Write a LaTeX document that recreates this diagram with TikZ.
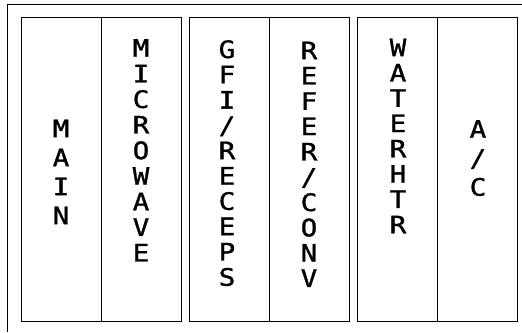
\documentclass[tikz,border=0pt]{standalone}
\usepackage{fontspec}
\newfontfamily\cadfont[FakeStretch=1.15, FakeBold=1.2]{DejaVu Sans Mono}
\begin{document}
\begin{tikzpicture}[x=1pt,y=-1pt,
  panel/.style={draw=black, line width=1pt, minimum width=160pt, minimum height=304pt, inner sep=0pt, outer sep=0pt, anchor=north west},
  lbl/.style={font=\cadfont\fontsize{24}{25.3}\selectfont, align=center, inner sep=0pt, anchor=north},
  lblwide/.style={lbl, font=\cadfont\fontsize{24}{29}\selectfont}]
\useasboundingbox (0,0) rectangle (522,332);
\draw[line width=0.8pt] (522,4.5) -- (7,4.5) -- (7,332);
\node[panel] (p1) at (21,17) {};
\node[panel] (p2) at (189,17) {};
\node[panel] (p3) at (357,17) {};
\draw[line width=1pt] (p1.north) -- (p1.south);
\draw[line width=1pt] (p2.north) -- (p2.south);
\draw[line width=1pt] (p3.north) -- (p3.south);
\node[lblwide] (main) at (61,119.5) {M\\A\\I\\N};
\node[lbl, font=\cadfont\fontsize{24}{25.6}\selectfont] (micro) at (141,39) {M\\I\\C\\R\\O\\W\\A\\V\\E};
\node[lbl] (gfi) at (227,40) {G\\F\\I\\/\\R\\E\\C\\E\\P\\S};
\node[lbl] (refer) at (309,41.5) {R\\E\\F\\E\\R\\/\\C\\O\\N\\V};
\node[lbl] (water) at (398,38.5) {W\\A\\T\\E\\R\\H\\T\\R};
\node[lblwide] (ac) at (478,120) {A\\/\\C};
\end{tikzpicture}
\end{document}
